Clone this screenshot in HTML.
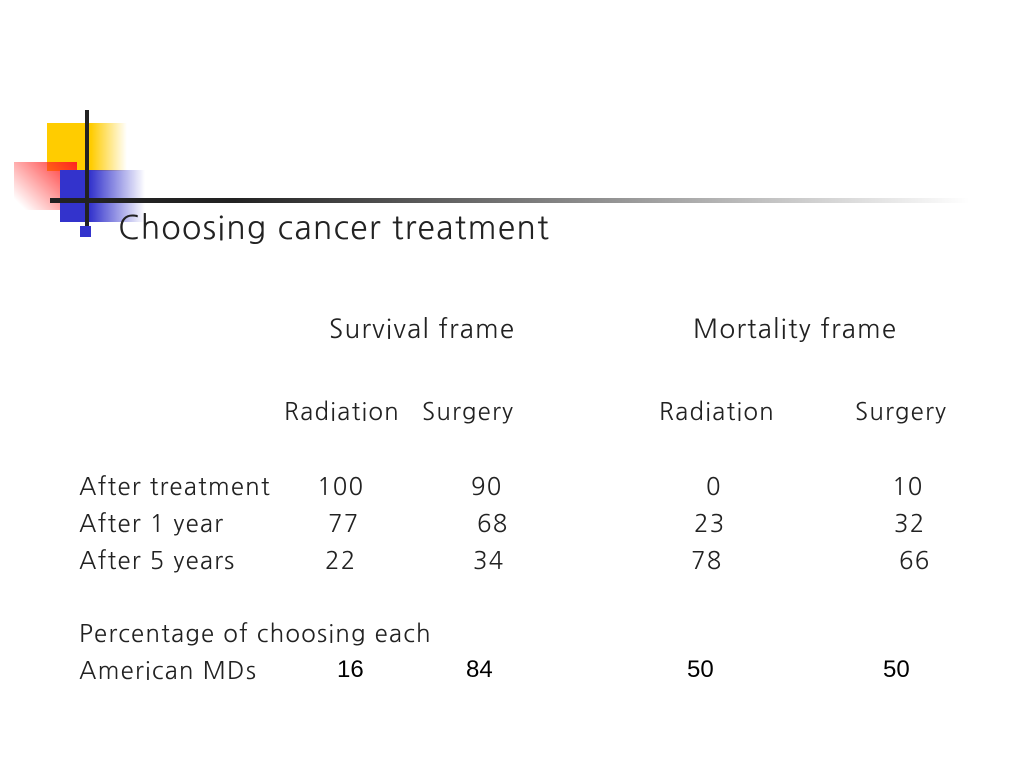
<!DOCTYPE html>
<html><head><meta charset="utf-8"><style>
body{margin:0;width:1024px;height:768px;background:#fff;position:relative;overflow:hidden;font-family:"NanumGothic","Liberation Sans",sans-serif;color:#222}
div{position:absolute}
.t{font-size:24px;white-space:nowrap;line-height:1;letter-spacing:1.2px}
.n{font-family:"Liberation Sans",sans-serif;color:#000;letter-spacing:0}
</style></head><body>
<div style="left:47px;top:123px;width:80px;height:48px;background:linear-gradient(90deg,#ffcc00 55%,rgba(255,204,0,0))"></div>
<div style="left:14px;top:162px;width:63px;height:48px;background:linear-gradient(45deg,rgba(255,0,0,0) 10%,#ff2222)"></div>
<div style="left:60px;top:170px;width:85px;height:52px;background:linear-gradient(90deg,#3333cc 35%,rgba(51,51,204,0))"></div>
<div style="left:85px;top:110px;width:4px;height:118px;background:#222"></div>
<div style="left:50px;top:198px;width:920px;height:5px;background:linear-gradient(90deg,#222 20%,rgba(34,34,34,0))"></div>
<div style="left:80px;top:226px;width:11px;height:11px;background:#3333cc"></div>
<div class="t" style="left:118px;top:212px;font-size:32px">Choosing cancer treatment</div>
<div class="t" style="left:329px;top:316px;font-size:26px">Survival frame</div>
<div class="t" style="left:693px;top:316px;font-size:26px">Mortality frame</div>
<div class="t" style="left:284px;top:400px">Radiation</div>
<div class="t" style="left:422px;top:400px">Surgery</div>
<div class="t" style="left:659px;top:400px">Radiation</div>
<div class="t" style="left:855px;top:400px">Surgery</div>
<div class="t" style="left:79px;top:475px">After treatment</div>
<div class="t" style="left:79px;top:512px">After 1 year</div>
<div class="t" style="left:79px;top:549px">After 5 years</div>
<div class="t" style="left:317px;top:475px">100</div>
<div class="t" style="left:471px;top:475px">90</div>
<div class="t" style="left:706px;top:475px">0</div>
<div class="t" style="left:892px;top:475px">10</div>
<div class="t" style="left:328px;top:512px">77</div>
<div class="t" style="left:477px;top:512px">68</div>
<div class="t" style="left:694px;top:512px">23</div>
<div class="t" style="left:894px;top:512px">32</div>
<div class="t" style="left:325px;top:549px">22</div>
<div class="t" style="left:473px;top:549px">34</div>
<div class="t" style="left:691px;top:549px">78</div>
<div class="t" style="left:899px;top:549px">66</div>
<div class="t" style="left:79px;top:622px">Percentage of choosing each</div>
<div class="t" style="left:79px;top:659px">American MDs</div>
<div class="t n" style="left:337px;top:658px">16</div>
<div class="t n" style="left:466px;top:658px">84</div>
<div class="t n" style="left:687px;top:658px">50</div>
<div class="t n" style="left:883px;top:658px">50</div>
</body></html>
